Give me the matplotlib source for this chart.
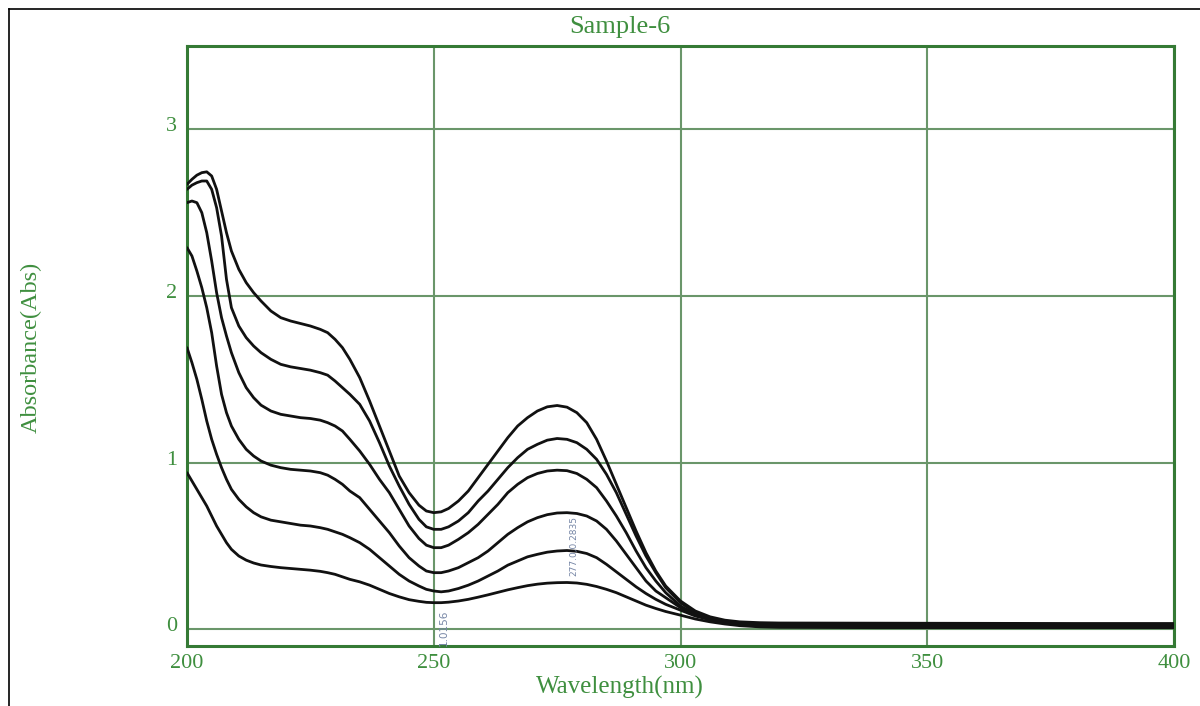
import matplotlib.pyplot as plt
import matplotlib.transforms as mtransforms
from matplotlib.lines import Line2D

# Wavelength grid (nm) shared by all six spectra
wavelength = [200, 201, 202, 203, 204, 205, 206, 207, 208, 209,
              210.5, 212, 213.5, 215, 217, 219, 221, 223, 225, 227,
              228.5, 230, 231.5, 233, 235, 237, 239, 241, 243, 245,
              247, 248.5, 250, 251.5, 253, 255, 257, 259, 261, 263,
              265, 267, 269, 271, 273, 275, 277, 279, 281, 283,
              285, 287, 289, 291, 293, 295, 297, 300, 303, 306,
              309, 312, 316, 320, 340, 360, 380, 400]

# Absorbance, top curve first
abs1 = [2.67, 2.70, 2.725, 2.74, 2.745, 2.72, 2.64, 2.51, 2.38, 2.27,
        2.16, 2.08, 2.02, 1.97, 1.91, 1.87, 1.85, 1.835, 1.82, 1.80,
        1.78, 1.74, 1.69, 1.62, 1.51, 1.37, 1.22, 1.07, 0.92, 0.82,
        0.745, 0.71, 0.70, 0.705, 0.725, 0.77, 0.83, 0.91, 0.99, 1.07,
        1.15, 1.22, 1.27, 1.31, 1.335, 1.343, 1.333, 1.30, 1.24, 1.14,
        1.01, 0.87, 0.73, 0.59, 0.46, 0.35, 0.26, 0.17, 0.11, 0.075,
        0.055, 0.045, 0.04, 0.038, 0.037, 0.036, 0.035, 0.035]
abs2 = [2.64, 2.665, 2.68, 2.69, 2.69, 2.64, 2.53, 2.36, 2.10, 1.93,
        1.82, 1.75, 1.70, 1.66, 1.62, 1.59, 1.575, 1.565, 1.555, 1.54,
        1.525, 1.49, 1.45, 1.41, 1.35, 1.25, 1.12, 0.98, 0.86, 0.75,
        0.66, 0.615, 0.60, 0.60, 0.615, 0.65, 0.70, 0.77, 0.83, 0.90,
        0.97, 1.03, 1.08, 1.11, 1.135, 1.145, 1.14, 1.12, 1.08, 1.02,
        0.93, 0.82, 0.69, 0.56, 0.44, 0.34, 0.25, 0.16, 0.10, 0.068,
        0.048, 0.038, 0.034, 0.032, 0.031, 0.03, 0.03, 0.03]
abs3 = [2.56, 2.57, 2.56, 2.50, 2.38, 2.21, 2.02, 1.87, 1.76, 1.66,
        1.54, 1.45, 1.39, 1.345, 1.31, 1.29, 1.28, 1.27, 1.265, 1.255,
        1.24, 1.22, 1.19, 1.14, 1.07, 0.99, 0.90, 0.82, 0.72, 0.62,
        0.545, 0.505, 0.49, 0.49, 0.505, 0.54, 0.58, 0.63, 0.69, 0.75,
        0.82, 0.87, 0.91, 0.935, 0.95, 0.955, 0.952, 0.935, 0.90, 0.85,
        0.77, 0.68, 0.58, 0.47, 0.37, 0.29, 0.22, 0.14, 0.09, 0.06,
        0.042, 0.032, 0.028, 0.026, 0.025, 0.025, 0.025, 0.025]
abs4 = [2.29, 2.24, 2.15, 2.05, 1.93, 1.78, 1.58, 1.41, 1.30, 1.22,
        1.14, 1.08, 1.04, 1.01, 0.985, 0.97, 0.96, 0.955, 0.95, 0.94,
        0.925, 0.90, 0.87, 0.83, 0.79, 0.72, 0.65, 0.58, 0.50, 0.43,
        0.38, 0.35, 0.34, 0.34, 0.35, 0.37, 0.40, 0.43, 0.47, 0.52,
        0.57, 0.61, 0.645, 0.67, 0.688, 0.698, 0.70, 0.695, 0.68, 0.65,
        0.60, 0.53, 0.45, 0.37, 0.29, 0.23, 0.19, 0.13, 0.085, 0.058,
        0.04, 0.03, 0.024, 0.022, 0.02, 0.02, 0.02, 0.02]
abs5 = [1.69, 1.60, 1.50, 1.38, 1.25, 1.14, 1.05, 0.97, 0.90, 0.84,
        0.78, 0.735, 0.70, 0.675, 0.655, 0.645, 0.635, 0.625, 0.62, 0.61,
        0.60, 0.585, 0.57, 0.55, 0.52, 0.48, 0.43, 0.38, 0.33, 0.29,
        0.26, 0.24, 0.23, 0.225, 0.23, 0.245, 0.265, 0.29, 0.32, 0.35,
        0.385, 0.41, 0.435, 0.45, 0.463, 0.47, 0.473, 0.468, 0.455, 0.43,
        0.39, 0.345, 0.30, 0.255, 0.215, 0.18, 0.15, 0.115, 0.08, 0.058,
        0.04, 0.027, 0.02, 0.017, 0.015, 0.015, 0.015, 0.015]
abs6 = [0.94, 0.89, 0.84, 0.79, 0.74, 0.68, 0.62, 0.57, 0.52, 0.48,
        0.44, 0.415, 0.398, 0.386, 0.377, 0.37, 0.365, 0.36, 0.355, 0.348,
        0.34, 0.33, 0.315, 0.30, 0.285, 0.265, 0.24, 0.215, 0.195, 0.178,
        0.168, 0.162, 0.16, 0.16, 0.163, 0.17, 0.18, 0.193, 0.207, 0.222,
        0.237, 0.25, 0.262, 0.271, 0.277, 0.28, 0.281, 0.278, 0.27, 0.257,
        0.24, 0.22, 0.195, 0.17, 0.145, 0.125, 0.107, 0.085, 0.062, 0.045,
        0.032, 0.022, 0.015, 0.012, 0.01, 0.01, 0.01, 0.01]

xticks = [200, 250, 300, 350, 400]
yticks = [0, 1, 2, 3]

# Styling
SPINE = "#357a35"
GRID = "#6a966a"
TEXT = "#3f8f3f"
plt.rcParams["font.family"] = ["Liberation Serif", "DejaVu Serif"]

fig = plt.figure(figsize=(12, 7.06), dpi=100)
ax = fig.add_axes([187 / 1200, 1 - 646 / 706, 987 / 1200, 600 / 706])

for a in [abs1, abs2, abs3, abs4, abs5, abs6]:
    ax.plot(wavelength, a, color="#111111", linewidth=2.0,
            solid_joinstyle="round", solid_capstyle="round", zorder=3)

ax.set_xlim(200, 400)
ax.set_ylim(-0.1, 3.5)
ax.set_xticks(xticks)
ax.set_yticks(yticks)
ax.grid(True, color=GRID, linewidth=1.5)
ax.set_axisbelow(True)
for s in ax.spines.values():
    s.set_color(SPINE)
    s.set_linewidth(2.2)
ax.tick_params(length=0, colors=TEXT, labelsize=16)
ax.tick_params(axis="x", pad=6)
ax.tick_params(axis="y", pad=7)

# y tick labels sit a little above their gridlines
offset = mtransforms.ScaledTranslation(0, 5 / 100, fig.dpi_scale_trans)
for lab in ax.get_yticklabels():
    lab.set_transform(lab.get_transform() + offset)

# small cursor readouts
ax.text(252, 0.01, "1.0156", rotation=90, fontsize=7.5, color="#7585a5",
        ha="center", va="center", family="DejaVu Sans", zorder=4)
ax.text(278.3, 0.50, "277.0,0.2835", rotation=90, fontsize=6.5, color="#7585a5",
        ha="center", va="center", family="DejaVu Sans", zorder=4)

# titles and axis labels
fig.text(620 / 1200, 1 - 27 / 706, "Sample-6", color=TEXT, fontsize=19, ha="center", va="center")
fig.text(620 / 1200, 1 - 687 / 706, "Wavelength(nm)", color=TEXT, fontsize=18, ha="center", va="center")
fig.text(31 / 1200, 1 - 347 / 706, "Absorbance(Abs)", color=TEXT, fontsize=17.5, rotation=90,
         ha="center", va="center")

# outer frame (top and left edges only)
fig.add_artist(Line2D([9 / 1200, 1.0], [1 - 9 / 706, 1 - 9 / 706], color="black", linewidth=1.2))
fig.add_artist(Line2D([9 / 1200, 9 / 1200], [0, 1 - 9 / 706], color="black", linewidth=1.2))

fig.savefig("out.png", dpi=100)
